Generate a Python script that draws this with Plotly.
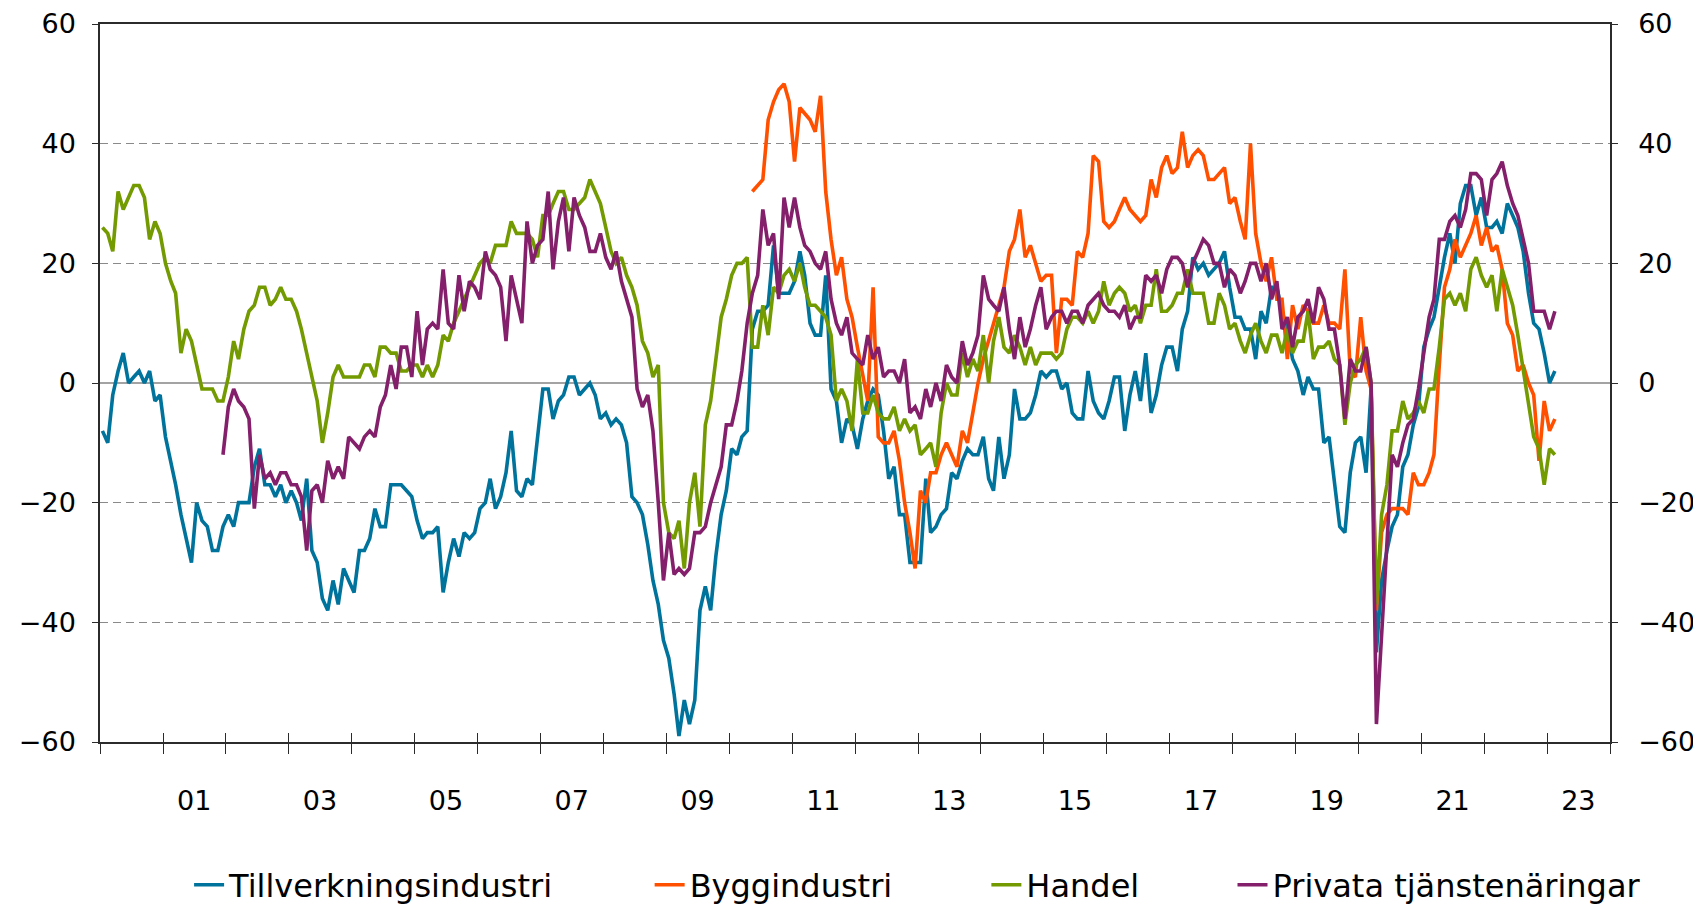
import pandas as pd
import plotly.graph_objects as go

# ---- Data (monthly, Jan 2000 - Feb 2023) ----
start_month = "2000-01-01"
n_months = 278

tillverkning = [
    -8, -10, -2, 2, 5, 0, 1, 2, 0, 2, -3, -2,
    -9, -13, -17, -22, -26, -30, -20, -23, -24, -28, -28, -24,
    -22, -24, -20, -20, -20, -14, -11, -17, -17, -19, -17, -20,
    -18, -20, -23, -16, -28, -30, -36, -38, -33, -37, -31, -33,
    -35, -28, -28, -26, -21, -24, -24, -17, -17, -17, -18, -19,
    -23, -26, -25, -25, -24, -35, -30, -26, -29, -25, -26, -25,
    -21, -20, -16, -21, -19, -15, -8, -18, -19, -16, -17, -9,
    -1, -1, -6, -3, -2, 1, 1, -2, -1, 0, -2, -6,
    -5, -7, -6, -7, -10, -19, -20, -22, -27, -33, -37, -43,
    -46, -52, -59, -53, -57, -53, -38, -34, -38, -29, -22, -18,
    -11, -12, -9, -8, 9, 12, 12, 13, 23, 15, 15, 15,
    17, 22, 18, 10, 8, 8, 18, -1, -3, -10, -6, -7,
    -11, -6, -3, -1, -2, -8, -16, -14, -22, -22, -30, -30,
    -30, -16, -25, -24, -22, -21, -15, -16, -13, -11, -12, -12,
    -9, -16, -18, -9, -16, -12, -1, -6, -6, -5, -2, 2,
    1, 2, 2, -1, 0, -5, -6, -6, 2, -3, -5, -6,
    -3, 1, 1, -8, -2, 2, -3, 5, -5, -2, 3, 6,
    6, 2, 9, 12, 21, 19, 20, 18, 19, 20, 22, 16,
    11, 11, 9, 9, 4, 12, 10, 16, 16, 12, 9, 4,
    2, -2, 1, -1, -1, -10, -9, -17, -24, -25, -15, -10,
    -9, -15, -1, -45, -33, -28, -24, -22, -14, -12, -7, -4,
    6, 9, 11, 16, 21, 25, 20, 30, 33, 33, 28, 31,
    26, 26, 27, 25, 30, 28, 26, 22, 15, 10, 9, 5, 0, 2,
]

byggindustri = [None] * 124 + [
    32, 33, 34, 44, 47, 49, 50, 47, 37, 46, 45, 44,
    42, 48, 32, 24, 18, 21, 14, 11, 6, 1, -3, 16,
    -9, -10, -10, -8, -13, -20, -25, -31, -18, -20, -15, -15,
    -12, -10, -12, -14, -8, -10, -5, 0, 4, 7, 10, 13,
    16, 22, 24, 29, 21, 23, 20, 17, 18, 18, 5, 14,
    14, 13, 22, 21, 25, 38, 37, 27, 26, 27, 29, 31,
    29, 28, 27, 28, 34, 31, 36, 38, 35, 36, 42, 36,
    38, 39, 38, 34, 34, 35, 36, 30, 31, 27, 24, 40,
    25, 20, 17, 21, 14, 14, 4, 13, 9, 13, 12, 10,
    10, 13, 10, 10, 9, 19, 2, 1, 11, 2, -1, -38,
    -25, -22, -21, -21, -21, -22, -15, -17, -17, -15, -12, 3,
    16, 19, 24, 21, 23, 25, 28, 23, 26, 22, 23, 19,
    10, 8, 2, 3, 0, -2, -13, -3, -8, -6,
]

handel = [
    26, 25, 22, 32, 29, 31, 33, 33, 31, 24, 27, 25,
    20, 17, 15, 5, 9, 7, 3, -1, -1, -1, -3, -3,
    1, 7, 4, 9, 12, 13, 16, 16, 13, 14, 16, 14,
    14, 12, 9, 5, 1, -3, -10, -5, 1, 3, 1, 1,
    1, 1, 3, 3, 1, 6, 6, 5, 5, 2, 2, 3,
    3, 1, 3, 1, 3, 8, 7, 10, 12, 14, 16, 18,
    20, 21, 20, 23, 23, 23, 27, 25, 25, 25, 24, 21,
    28, 28, 30, 32, 32, 29, 29, 30, 31, 34, 32, 30,
    26, 22, 20, 21, 18, 16, 13, 7, 5, 1, 3, -20,
    -25, -26, -23, -31, -20, -15, -24, -7, -3, 4, 11, 14,
    18, 20, 20, 21, 6, 6, 13, 8, 16, 15, 18, 19,
    17, 20, 16, 13, 13, 12, 11, 8, -3, -1, -3, -8,
    4, -5, -5, -2, -5, -6, -6, -4, -8, -6, -8, -7,
    -12, -11, -10, -14, -5, 0, -2, -2, 5, 1, 4, 2,
    8, 0, 7, 11, 6, 5, 8, 6, 3, 6, 3, 5,
    5, 5, 4, 5, 9, 11, 11, 10, 12, 10, 12, 17,
    13, 15, 16, 15, 12, 13, 10, 13, 13, 19, 12, 12,
    13, 15, 15, 19, 15, 15, 15, 10, 10, 15, 13, 9,
    10, 7, 5, 8, 10, 7, 5, 8, 8, 5, 9, 5,
    7, 7, 12, 4, 6, 6, 7, 4, 3, -7, 0, 3,
    4, 6, 0, -37, -22, -17, -8, -8, -3, -6, -5, -3,
    -5, -1, -1, 6, 14, 15, 13, 15, 12, 19, 21, 18,
    16, 18, 12, 19, 16, 13, 8, 2, -4, -9, -11, -17, -11, -12,
]

privata = [None] * 23 + [
    -12,
    -4, -1, -3, -4, -6, -21, -12, -16, -15, -17, -15, -15,
    -17, -17, -19, -28, -18, -17, -20, -13, -16, -14, -16, -9,
    -10, -11, -9, -8, -9, -4, -2, 3, -1, 6, 6, 1,
    12, 3, 9, 10, 9, 19, 10, 9, 18, 12, 17, 16,
    14, 22, 19, 18, 16, 7, 18, 14, 10, 27, 20, 23,
    24, 32, 19, 27, 31, 22, 31, 28, 26, 22, 22, 25,
    21, 19, 22, 17, 14, 11, -1, -4, -2, -8, -20, -33,
    -25, -32, -31, -32, -31, -25, -25, -24, -20, -17, -14, -7,
    -7, -3, 2, 10, 15, 18, 29, 23, 25, 14, 31, 26,
    31, 26, 23, 22, 20, 19, 22, 14, 10, 8, 11, 5,
    4, 3, 8, 4, 6, 1, 2, 2, 0, 4, -5, -4,
    -6, -1, -4, 0, -3, 3, 1, 0, 7, 3, 5, 8,
    18, 14, 13, 12, 16, 9, 4, 11, 6, 9, 13, 16,
    9, 11, 12, 12, 10, 12, 12, 10, 13, 14, 15, 13,
    12, 12, 11, 13, 9, 11, 11, 18, 17, 18, 15, 19,
    21, 21, 20, 16, 20, 22, 24, 23, 20, 20, 16, 19,
    18, 15, 17, 20, 20, 17, 20, 14, 17, 9, 11, 6,
    11, 12, 14, 10, 16, 14, 9, 9, 3, -6, 4, 2,
    2, 6, 0, -57, -42, -25, -12, -14, -10, -7, -6, -1,
    5, 11, 14, 24, 24, 27, 28, 26, 29, 35, 35, 34,
    28, 34, 35, 37, 33, 30, 28, 24, 20, 12, 12, 12, 9, 12,
]

series_names = ["Tillverkningsindustri", "Byggindustri", "Handel", "Privata tjänstenäringar"]
series_colors = ["#00739c", "#ff5000", "#739a00", "#84206b"]

label_years = list(range(2001, 2024, 2))
tick_labels = [f"{y % 100:02d}" for y in label_years]
y_ticks = [-60, -40, -20, 0, 20, 40, 60]

# ---- Build ----
dates = pd.date_range(start_month, periods=n_months, freq="MS") + pd.Timedelta(days=14)
series = [tillverkning, byggindustri, handel, privata]
legend_ids = ["legend", "legend2", "legend3", "legend4"]
# last series drawn on the overlay axes so that right-hand axis and inner ticks are rendered
axes_pairs = [("x", "y"), ("x", "y"), ("x", "y"), ("x2", "y2")]

fig = go.Figure()
for name, vals, col, lg, (xa, ya) in zip(series_names, series, series_colors, legend_ids, axes_pairs):
    fig.add_trace(go.Scatter(
        x=dates, y=vals, name=name, mode="lines",
        line=dict(color=col, width=3.6), connectgaps=False,
        legend=lg, xaxis=xa, yaxis=ya,
    ))

FONT = "DejaVu Sans"
axis_col = "#2b2b2b"
year_ticks = [f"{y}-01-01" for y in range(2000, 2025)]

# page body adds an 8px offset; figure is sized to fit inside the window
W, H = 1693, 897
leg_font = dict(family=FONT, size=32, color="#000000")
leg_common = dict(orientation="h", yref="paper", y=-0.199, yanchor="middle",
                  xanchor="left", font=leg_font, bgcolor="rgba(0,0,0,0)", itemwidth=30)
leg_x = [0.059, 0.364, 0.587, 0.750]

fig.update_layout(
    width=W, height=H,
    margin=dict(l=92, r=91, t=16, b=163, autoexpand=False),
    paper_bgcolor="white", plot_bgcolor="white",
    font=dict(family=FONT, size=27, color="#000000"),
    showlegend=True,
    legend=dict(x=leg_x[0], **leg_common),
    legend2=dict(x=leg_x[1], **leg_common),
    legend3=dict(x=leg_x[2], **leg_common),
    legend4=dict(x=leg_x[3], **leg_common),
    xaxis=dict(
        type="date",
        range=["2000-01-01", "2024-01-01"],
        tickmode="array",
        tickvals=[f"{y}-07-01" for y in label_years],
        ticktext=tick_labels,
        ticks="",
        ticklabelstandoff=34,
        showgrid=False,
        showline=True, linecolor=axis_col, linewidth=1.5, mirror=True,
        tickfont=dict(family=FONT, size=27),
        minor=dict(
            tickmode="array", tickvals=year_ticks,
            ticks="outside", ticklen=10, tickwidth=1.3, tickcolor=axis_col,
            showgrid=False,
        ),
    ),
    xaxis2=dict(
        type="date", overlaying="x", matches="x",
        range=["2000-01-01", "2024-01-01"],
        tickmode="array", tickvals=year_ticks,
        ticks="inside", ticklen=9, tickwidth=1.3, tickcolor=axis_col,
        showticklabels=False, showgrid=False, showline=False,
        side="bottom",
    ),
    yaxis=dict(
        range=[-60, 60], tickmode="array", tickvals=y_ticks,
        ticks="outside", ticklen=6, tickwidth=1.3, tickcolor=axis_col,
        ticklabelstandoff=11,
        showgrid=True, gridcolor="#8a8a8a", gridwidth=1.3, griddash="8px,5px",
        zeroline=True, zerolinecolor="#a3a3a3", zerolinewidth=2.2,
        showline=True, linecolor=axis_col, linewidth=1.5,
        tickfont=dict(family=FONT, size=27),
    ),
    yaxis2=dict(
        range=[-60, 60], tickmode="array", tickvals=y_ticks,
        overlaying="y", side="right", matches="y",
        ticks="outside", ticklen=6, tickwidth=1.3, tickcolor=axis_col,
        ticklabelstandoff=15,
        showgrid=False, zeroline=False,
        showline=True, linecolor=axis_col, linewidth=1.5,
        tickfont=dict(family=FONT, size=27),
    ),
)

fig.write_html("out.html")
